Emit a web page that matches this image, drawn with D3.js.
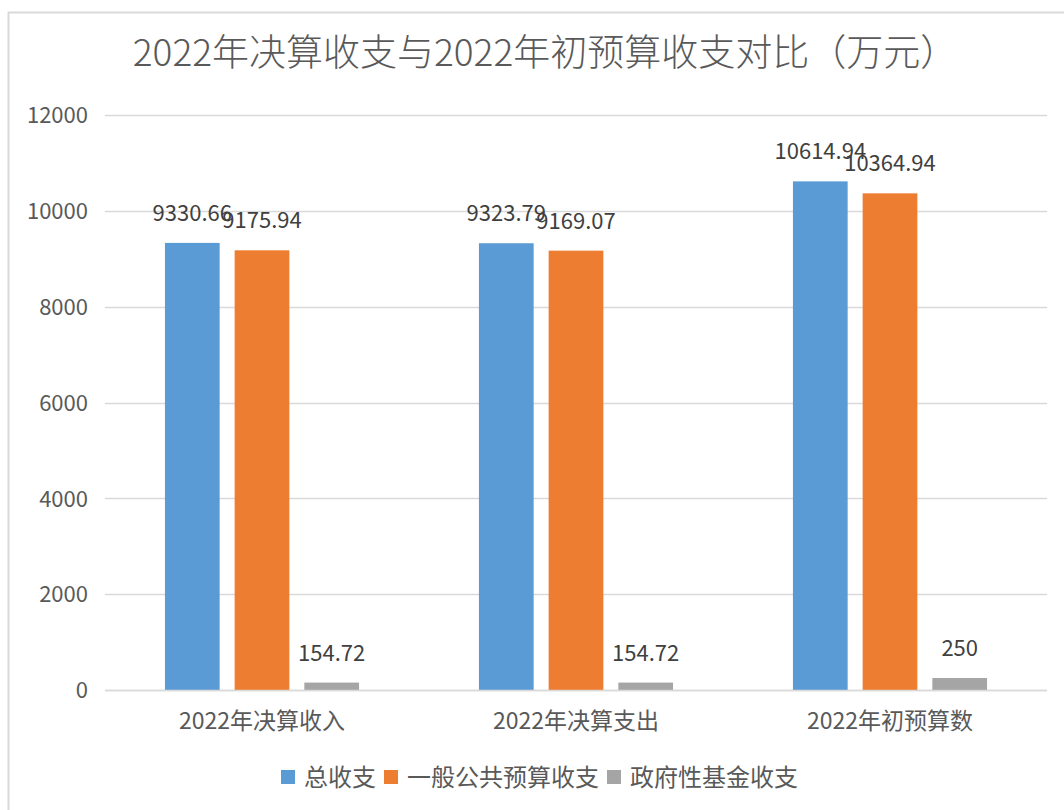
<!DOCTYPE html>
<html>
<head>
<meta charset="utf-8">
<script src="https://cdn.jsdelivr.net/npm/d3@7"></script>
<style>
  html, body { margin: 0; padding: 0; background: #fff; }
  svg { display: block; }
  text { font-family: "Noto Sans CJK SC", "Noto Sans", sans-serif; }
</style>
</head>
<body>
<svg id="chart" width="1064" height="810"></svg>
<script>
const title = "2022年决算收支与2022年初预算收支对比（万元）";
const categories = ["2022年决算收入", "2022年决算支出", "2022年初预算数"];
const seriesNames = ["总收支", "一般公共预算收支", "政府性基金收支"];
const totalValues = [9330.66, 9323.79, 10614.94];
const generalValues = [9175.94, 9169.07, 10364.94];
const fundValues = [154.72, 154.72, 250];
const yTicks = [0, 2000, 4000, 6000, 8000, 10000, 12000];
const colors = ["#5B9BD5", "#ED7D31", "#A5A5A5"];

const seriesValues = [totalValues, generalValues, fundValues];
const data = categories.map((c, i) => ({
  category: c,
  values: seriesNames.map((s, j) => ({ series: s, value: seriesValues[j][i], idx: j }))
}));

const svg = d3.select("#chart");
const plot = { left: 105, right: 1047, top: 115, bottom: 690 };

// chart border
svg.append("rect").attr("x", 8.5).attr("y", 12.5).attr("width", 1100).attr("height", 900)
  .attr("fill", "none").attr("stroke", "#D9D9D9").attr("stroke-width", 2);

const y = d3.scaleLinear().domain([0, 12000]).range([plot.bottom, plot.top]);
const x0 = d3.scaleBand().domain(categories).range([plot.left, plot.right]).padding(0);
const x1 = d3.scaleBand().domain(seriesNames).range([0, x0.bandwidth()])
  .paddingInner(0.215).paddingOuter(0.86);

// gridlines
svg.append("g").selectAll("line").data(yTicks).join("line")
  .attr("x1", plot.left).attr("x2", plot.right)
  .attr("y1", d => Math.round(y(d)) + 0.5).attr("y2", d => Math.round(y(d)) + 0.5)
  .attr("stroke", "#D9D9D9").attr("stroke-width", 1.5);

// y axis labels
const yAxis = d3.axisLeft(y).tickValues(yTicks).tickSize(0).tickPadding(0).tickFormat(d3.format("d"));
const yg = svg.append("g").attr("transform", `translate(88,0)`).call(yAxis);
yg.select(".domain").remove();
yg.selectAll("text").attr("font-size", 22).attr("fill", "#595959")
  .attr("font-family", "'Noto Sans CJK SC', sans-serif").attr("dy", "0.35em");

// bars
const groups = svg.append("g").selectAll("g").data(data).join("g")
  .attr("transform", d => `translate(${x0(d.category)},0)`);
groups.selectAll("rect").data(d => d.values).join("rect")
  .attr("x", d => x1(d.series))
  .attr("width", x1.bandwidth())
  .attr("y", d => y(d.value))
  .attr("height", d => y(0) - y(d.value))
  .attr("fill", d => colors[d.idx]);

// value labels
groups.selectAll("text.val").data(d => d.values).join("text")
  .attr("class", "val")
  .attr("x", d => x1(d.series) + x1.bandwidth() / 2)
  .attr("y", d => y(d.value) - 22)
  .attr("text-anchor", "middle")
  .attr("font-size", 22)
  .attr("fill", "#404040")
  .text(d => d.value);

// axis baseline
svg.append("line").attr("x1", plot.left).attr("x2", plot.right)
  .attr("y1", y(0) + 0.5).attr("y2", y(0) + 0.5).attr("stroke", "#D9D9D9").attr("stroke-width", 1.5);

// x axis labels
const xAxis = d3.axisBottom(x0).tickSize(0).tickPadding(0);
const xg = svg.append("g").attr("transform", `translate(0,${plot.bottom})`).call(xAxis);
xg.select(".domain").remove();
xg.selectAll("text").attr("font-size", 23).attr("fill", "#595959")
  .attr("font-family", "'Noto Sans CJK SC', sans-serif").attr("dy", 0).attr("y", 39);

// title
svg.append("text").attr("x", 545).attr("y", 66).attr("text-anchor", "middle")
  .attr("font-size", 37).attr("font-weight", 300).attr("fill", "#595959").text(title);

// legend
const legendFont = 24;
const legend = svg.append("g").attr("class", "legend");
let lx = 281;
seriesNames.forEach((s, i) => {
  legend.append("rect").attr("x", lx).attr("y", 770).attr("width", 14).attr("height", 14).attr("fill", colors[i]);
  const t = legend.append("text").attr("x", lx + 23).attr("y", 786)
    .attr("font-size", legendFont).attr("fill", "#595959").text(s);
  const w = t.node().getComputedTextLength();
  lx = lx + 23 + w + 8;
});
</script>
</body>
</html>
